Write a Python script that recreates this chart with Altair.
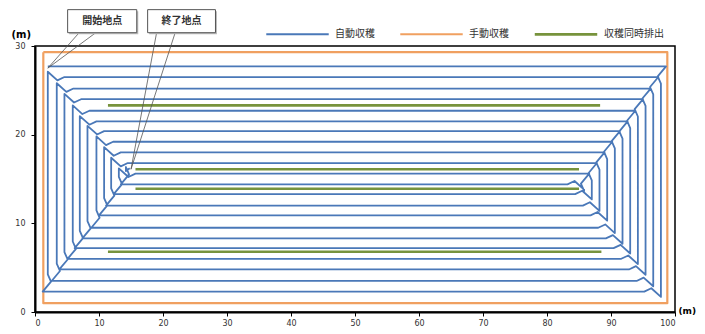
import altair as alt
import pandas as pd

# ---------------- data (metres) ----------------
series_names = ["自動収穫", "手動収穫", "収穫同時排出"]
series_colors = ["#4a78b8", "#f0a060", "#77933c"]
series_widths = [1.8, 2.6, 5.0]

# automatic harvesting: concentric loops (top / bottom rows, left / right columns)
loop_top = [27.7, 26.5, 25.2, 24.0, 22.7, 21.5, 20.4, 19.2, 18.0, 16.8, 15.6]
loop_bottom = [2.3, 3.5, 4.8, 6.0, 7.2, 8.3, 9.5, 10.9, 12.0, 13.3, 14.4]
loop_left = [2.0, 3.4, 4.6, 5.9, 7.0, 8.2, 9.6, 10.8, 11.9, 13.1, 14.2]
loop_right = [97.8, 96.6, 95.4, 94.2, 93.0, 91.8, 90.6, 89.4, 88.2, 87.0, 85.8]
start_x, start_y = 2.0, 27.7
end_x, end_y = 14.8, 16.2

# manual harvesting: outer round
manual_left, manual_right = 1.3, 98.8
manual_bottom, manual_top = 1.0, 29.3

# unloading while harvesting
unload_y = [23.3, 16.1, 13.9, 6.8]
unload_x1 = [11.4, 15.7, 15.7, 11.4]
unload_x2 = [88.3, 85.0, 85.0, 88.5]

# callouts
note_text = ["開始地点", "終了地点"]
note_x1 = [5.1, 17.6]
note_x2 = [15.9, 28.2]
note_y1 = [31.5, 31.5]
note_y2 = [34.1, 34.1]
note_leg1 = [6.9, 19.0]
note_leg2 = [9.5, 21.9]
note_tx = [2.0, 15.0]
note_ty = [27.5, 16.1]

x_ticks = list(range(0, 101, 10))
y_ticks = [0, 10, 20, 30]

# ---------------- build tables ----------------
# corner turn manoeuvre (overshoot, reverse, re-enter), in metres
OV, BK, SIDE, RE = 0.8, 0.5, 1.5, 2.6
YS = 0.75


def corner(pts, cx, cy, din, dout):
    pts.append((cx + OV * din[0], cy + OV * din[1] * YS))
    pts.append((cx - BK * din[0] + SIDE * dout[0],
                cy + (-BK * din[1] + SIDE * dout[1]) * YS))
    pts.append((cx + RE * dout[0], cy + RE * dout[1] * YS))


pts = [(start_x, start_y)]
n = len(loop_top)
for k in range(n):
    T, B, L, R = loop_top[k], loop_bottom[k], loop_left[k], loop_right[k]
    corner(pts, R, T, (1, 0), (0, -1))
    corner(pts, R, B, (0, -1), (-1, 0))
    corner(pts, L, B, (-1, 0), (0, 1))
    if k + 1 < n:
        corner(pts, L, loop_top[k + 1], (0, 1), (1, 0))
    else:
        pts.append((L, end_y - 0.3))
        pts.append((end_x, end_y))

rows = []
for i, (x, y) in enumerate(pts):
    rows.append({"series": series_names[0], "seg": "a", "order": i, "x": x, "y": y})
blue_df = pd.DataFrame(rows)

ox = [manual_left, manual_right, manual_right, manual_left, manual_left]
oy = [manual_top, manual_top, manual_bottom, manual_bottom, manual_top]
orange_df = pd.DataFrame({"series": series_names[1], "seg": "m", "order": range(5), "x": ox, "y": oy})

grows = []
for i in range(len(unload_y)):
    grows.append({"series": series_names[2], "seg": f"g{i}", "order": 0, "x": unload_x1[i], "y": unload_y[i]})
    grows.append({"series": series_names[2], "seg": f"g{i}", "order": 1, "x": unload_x2[i], "y": unload_y[i]})
green_df = pd.DataFrame(grows)

note_df = pd.DataFrame({"text": note_text, "x1": note_x1, "x2": note_x2, "y1": note_y1, "y2": note_y2,
                        "xm": [(a + b) / 2 for a, b in zip(note_x1, note_x2)],
                        "ym": [(a + b) / 2 for a, b in zip(note_y1, note_y2)]})
lrows = []
for i in range(len(note_text)):
    lrows += [
        {"id": i, "order": 0, "x": note_leg1[i], "y": note_y1[i]},
        {"id": i, "order": 1, "x": note_tx[i], "y": note_ty[i]},
        {"id": i, "order": 2, "x": note_leg2[i], "y": note_y1[i]},
    ]
leader_df = pd.DataFrame(lrows)

# ---------------- chart ----------------
FONT = "Noto Sans CJK JP"
xs = alt.Scale(domain=[0, 100], nice=False, zero=False)
ys = alt.Scale(domain=[0, 30], nice=False, zero=False)
cscale = alt.Scale(domain=series_names, range=series_colors)
wscale = alt.Scale(domain=series_names, range=series_widths)

xenc = alt.X("x:Q", scale=xs, axis=alt.Axis(values=x_ticks, title="(m)", titleAngle=0, titleX=643, titleY=-6,
                                            titleAlign="left", titleBaseline="top", titleFontSize=9,
                                            titleFontWeight="bold", labelFontSize=8, tickSize=4,
                                            labelPadding=3, grid=False, domainWidth=2, domainColor="#000",
                                            tickColor="#000", labelColor="#333", titleColor="#000"))
yenc = alt.Y("y:Q", scale=ys, axis=alt.Axis(values=y_ticks, title="(m)", titleAngle=0, titleX=-24, titleY=-7,
                                            titleAlign="left", titleBaseline="bottom", titleFontSize=10,
                                            titleFontWeight="bold", labelFontSize=8, tickSize=4,
                                            labelPadding=6, grid=False, domainWidth=2, domainColor="#000",
                                            tickColor="#000", labelColor="#333", titleColor="#000"))

legend = alt.Legend(title=None, orient="none", legendX=230, legendY=-45, direction="horizontal",
                    symbolType="stroke", symbolSize=3900, labelFontSize=10, labelFont=FONT,
                    labelColor="#333", columnPadding=20, labelOffset=5)
color = alt.Color("series:N", scale=cscale, legend=legend, sort=series_names)
width = alt.StrokeWidth("series:N", scale=wscale, legend=legend, sort=series_names)


def path_layer(df):
    return alt.Chart(df).mark_line(strokeJoin="round").encode(
        x=xenc, y=yenc, color=color, strokeWidth=width,
        detail="seg:N", order=alt.Order("order:Q"))


orange = path_layer(orange_df)
blue = path_layer(blue_df)
green = path_layer(green_df)

leaders = alt.Chart(leader_df).mark_line(color="#555", strokeWidth=0.8).encode(
    x="x:Q", y="y:Q", detail="id:N", order=alt.Order("order:Q"))
shadows = alt.Chart(note_df).mark_rect(fill="#bbb", xOffset=1.5, yOffset=1.5, x2Offset=1.5, y2Offset=1.5).encode(
    x="x1:Q", x2="x2:Q", y="y1:Q", y2="y2:Q")
boxes = alt.Chart(note_df).mark_rect(fill="white", stroke="#555", strokeWidth=1).encode(
    x="x1:Q", x2="x2:Q", y="y1:Q", y2="y2:Q")
labels = alt.Chart(note_df).mark_text(font=FONT, fontSize=10, color="#333", fontWeight="bold").encode(
    x="xm:Q", y="ym:Q", text="text:N")

chart = alt.layer(orange, blue, green, leaders, shadows, boxes, labels).properties(
    width=640, height=266,
    padding={"left": 27, "top": 38, "right": 22, "bottom": 18},
    autosize=alt.AutoSizeParams(type="none"),
).configure_view(stroke="#000", strokeWidth=1.5).configure_axis(labelFont="DejaVu Sans", titleFont="DejaVu Sans")

chart.save("out.html", embed_options={"renderer": "svg", "actions": False})
